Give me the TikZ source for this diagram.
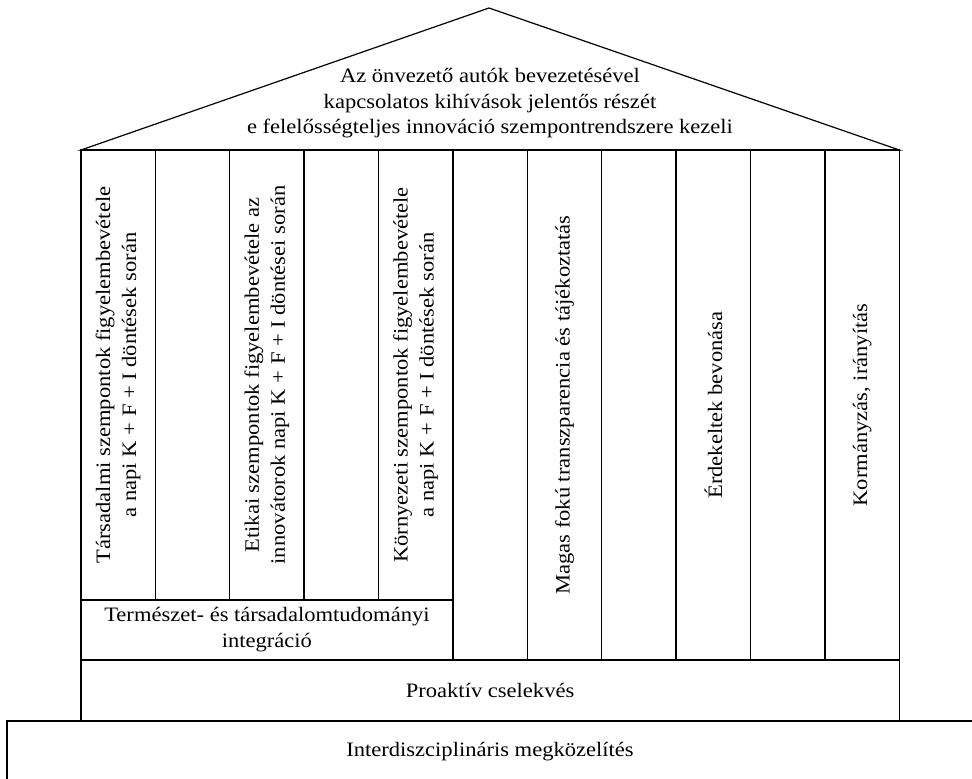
\documentclass[tikz,border=0pt]{standalone}
\usepackage{fontspec}
\setmainfont{Liberation Serif}[FakeStretch=1.1]
\begin{document}
\begin{tikzpicture}[x=1pt,y=-1pt,
  every node/.style={inner sep=0pt, outer sep=0pt, font=\fontsize{20.5}{26}\selectfont, text=black},
  col/.style={draw, line width=1.2pt, rotate=90, minimum width=450, minimum height=74.36, align=center},
  tallcol/.style={col, minimum width=510},
  band/.style={draw, line width=1.2pt, align=center},
  edge/.style={line width=1.2pt, line join=miter}]
\useasboundingbox (0,0) rectangle (972,779);
% roof
\coordinate (rl) at (81,150);
\coordinate (rr) at (899.3,150);
\coordinate (apex) at (489,8);
\draw[edge] (rl) -- (apex) -- (rr) -- cycle;
\node[align=center, font=\fontsize{20.5}{25.5}\selectfont] (rooftext) at (490,103.5) {Az önvezető autók bevezetésével\\kapcsolatos kihívások jelentős részét\\e felelősségteljes innováció szempontrendszere kezeli};
% short columns
\node[col] (c1) at (118.2,375) {Társadalmi szempontok figyelembevétele\\a napi K + F + I döntések során};
\node[col] (c2) at (192.5,375) {};
\node[col] (c3) at (266.9,375) {Etikai szempontok figyelembevétele az\\innovátorok napi K + F + I döntései során};
\node[col] (c4) at (341.3,375) {};
\node[col] (c5) at (415.7,375) {Környezeti szempontok figyelembevétele\\a napi K + F + I döntések során};
% tall columns
\node[tallcol] (c6) at (490.1,405) {};
\node[tallcol] (c7) at (564.5,405) {Magas fokú transzparencia és tájékoztatás};
\node[tallcol] (c8) at (638.9,405) {};
\node[tallcol] (c9) at (713.3,405) {Érdekeltek bevonása};
\node[tallcol] (c10) at (787.7,405) {};
\node[tallcol] (c11) at (862.1,405) {Kormányzás, irányítás};
% integration band
\node[band, minimum width=371.8, minimum height=60] (integ) at (266.9,630) {Természet- és társadalomtudományi\\integráció};
% proactive band
\node[band, minimum width=818.3, minimum height=61] (proakt) at (490.1,690.5) {Proaktív cselekvés};
% base
\coordinate (bl) at (7,721);
\coordinate (bt) at (972,721);
\coordinate (bb) at (7,779);
\draw[edge] (bt) -- (bl) -- (bb);
\node (inter) at (490,752) {Interdiszciplináris megközelítés};
\end{tikzpicture}
\end{document}
